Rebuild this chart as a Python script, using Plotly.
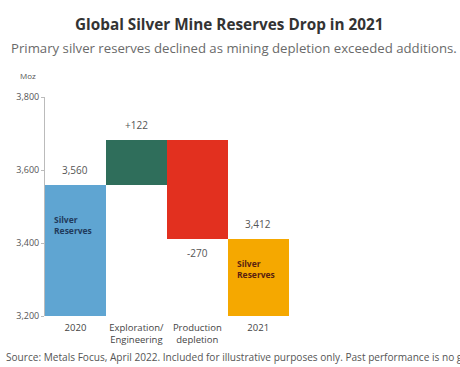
import plotly.graph_objects as go

# Silver mine reserves bridge, 2020 -> 2021 (Moz)
categories = ["2020", "Exploration/<br>Engineering", "Production<br>depletion", "2021"]
reserves_2020 = 3560
exploration_change = 122
depletion_change = -270
reserves_2021 = 3412
value_labels = ["3,560", "+122", "-270", "3,412"]
y_ticks = [3200, 3400, 3600, 3800]
y_tick_labels = ["3,200", "3,400", "3,600", "3,800"]

axis_floor = 3200
colors = ["#5fa5d2", "#2f6e5b", "#e2301f", "#f5a800"]

# floating bars: start and end totals sit on the axis floor, changes float
peak = reserves_2020 + exploration_change
bases = [axis_floor, reserves_2020, peak + depletion_change, axis_floor]
heights = [reserves_2020 - axis_floor, exploration_change, -depletion_change,
           reserves_2021 - axis_floor]
tops = [b + h for b, h in zip(bases, heights)]

fig = go.Figure(go.Bar(
    x=list(range(len(categories))),
    y=heights,
    base=bases,
    marker=dict(color=colors, line=dict(width=0)),
    width=1.0,
    hoverinfo="skip",
))

font_family = "Open Sans, Noto Sans, sans-serif"
annotations = []
for i, lbl in enumerate(value_labels):
    if i == 2:
        annotations.append(dict(x=i, y=bases[i], text=lbl, showarrow=False,
                                yanchor="top", yshift=-5,
                                font=dict(size=10, color="#555555", family=font_family)))
    else:
        annotations.append(dict(x=i, y=tops[i], text=lbl, showarrow=False,
                                yanchor="bottom", yshift=6,
                                font=dict(size=10, color="#555555", family=font_family)))

# labels inside the two total bars
annotations.append(dict(x=-0.38, y=3450, text="<b>Silver<br>Reserves</b>", showarrow=False,
                        xanchor="left", yanchor="middle", align="left",
                        font=dict(size=8.5, color="#1f3b5c", family=font_family)))
annotations.append(dict(x=2.62, y=3330, text="<b>Silver<br>Reserves</b>", showarrow=False,
                        xanchor="left", yanchor="middle", align="left",
                        font=dict(size=8.5, color="#5a1f10", family=font_family)))

# titles, unit and source line
annotations += [
    dict(xref="paper", yref="paper", x=0.5, y=1, text="<b>Global Silver Mine Reserves Drop in 2021</b>",
         showarrow=False, xanchor="center", yanchor="middle",
         xshift=-14, yshift=73,
         font=dict(size=15.3, color="#333333", family=font_family)),
    dict(xref="paper", yref="paper", x=0, y=1, text="Primary silver reserves declined as mining depletion exceeded additions.",
         showarrow=False, xanchor="left", yanchor="middle",
         xshift=-36, yshift=49,
         font=dict(size=13.2, color="#6a6a6a", family=font_family)),
    dict(xref="paper", yref="paper", x=0, y=1, text="Moz",
         showarrow=False, xanchor="center", yanchor="middle",
         xshift=-17, yshift=22,
         font=dict(size=8, color="#555555", family=font_family)),
    dict(xref="paper", yref="paper", x=0, y=0,
         text="Source: Metals Focus, April 2022. Included for illustrative purposes only. Past performance is no guarantee of future results.",
         showarrow=False, xanchor="left", yanchor="middle",
         xshift=-41, yshift=-41,
         font=dict(size=10.1, color="#555555", family=font_family)),
]

fig.update_layout(
    width=460, height=367,
    margin=dict(l=45, r=19, t=97, b=51),
    paper_bgcolor="white", plot_bgcolor="white",
    bargap=0,
    showlegend=False,
    annotations=annotations,
    xaxis=dict(
        range=[-0.5, 6.0],
        tickmode="array",
        tickvals=list(range(len(categories))),
        ticktext=categories,
        showline=False, showgrid=False, zeroline=False,
        ticks="",
        ticklabelstandoff=4,
        tickfont=dict(size=9.5, color="#444444", family=font_family),
        fixedrange=True,
    ),
    yaxis=dict(
        range=[3200, 3800],
        tickmode="array",
        tickvals=y_ticks,
        ticktext=y_tick_labels,
        showline=True, linecolor="#bbbbbb", linewidth=1,
        ticks="outside", ticklen=3, tickcolor="#bbbbbb",
        showgrid=False, zeroline=False,
        tickfont=dict(size=9, color="#555555", family=font_family),
        fixedrange=True,
    ),
)

fig.write_html("out.html")
